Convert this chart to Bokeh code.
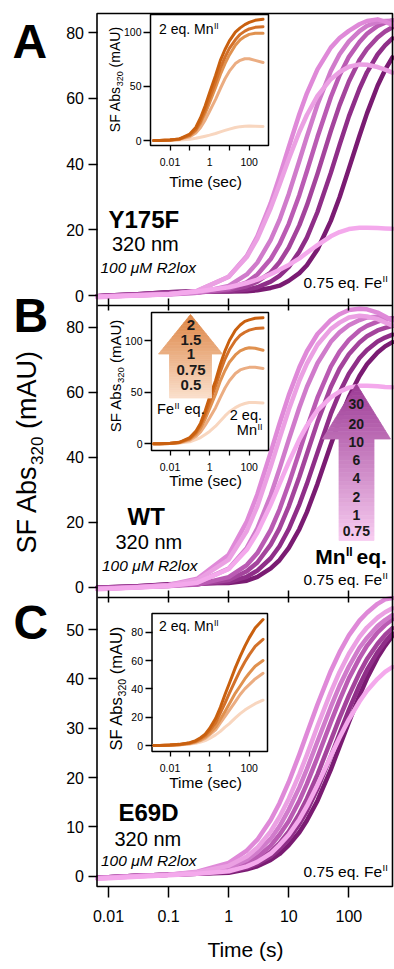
import math
from bokeh.plotting import figure
from bokeh.models import (Range1d, LinearScale, LogScale, LinearAxis, LogAxis,
                          FixedTicker, Label, CustomJSTickFormatter)
from bokeh.embed import file_html
from bokeh.resources import INLINE

FONT = "Liberation Sans"

# ---------------- data ----------------
time_s = [0.0065, 0.01, 0.03, 0.1, 0.3, 1, 2, 3, 5, 7, 10, 15, 20, 30, 50, 70, 100, 150, 200, 300, 400, 530]
x_ticks = [0.01, 0.1, 1, 10, 100]
yA_ticks = [0, 20, 40, 60, 80]
yB_ticks = [0, 20, 40, 60, 80]
yC_ticks = [0, 10, 20, 30, 40, 50]
mn_eq_labels = ["30", "20", "10", "6", "4", "2", "1", "0.75"]
fe_eq_labels = ["2", "1.5", "1", "0.75", "0.5"]

# Panel A (Y175F), main traces
y175f_1 = [-0.5, -0.4, 0, 0.4, 1.2, 2.5, 3.8, 4.8, 6.5, 7.8, 9.3, 11.3, 13, 15.3, 18, 19.3, 20.2, 20.6, 20.6, 20.5, 20.4, 20.3]
y175f_2 = [-0.3, -0.2, 0.1, 0.4, 1.4, 5.7, 11.7, 17.3, 26.6, 33.7, 41.5, 49.8, 54.9, 60.7, 65.8, 68, 69.6, 70.3, 70.2, 69.5, 68.7, 67.8]
y175f_3 = [-0.3, -0.3, 0.1, 0.4, 1.4, 5.7, 12, 18, 28.1, 36.1, 45.2, 55.2, 61.5, 68.8, 75.4, 78.3, 80.5, 82.5, 83.5, 84, 83.3, 82.3]
y175f_4 = [-0.3, -0.2, 0.1, 0.3, 0.8, 2.9, 6.4, 10, 16.9, 23, 30.9, 41, 48.3, 58.1, 68.3, 73.4, 77.3, 80.4, 82, 83.2, 83.5, 83.6]
y175f_5 = [-0.2, -0.1, 0.2, 0.5, 0.8, 2, 4, 6.4, 11.1, 15.6, 21.8, 30.6, 37.8, 48.2, 60.3, 67, 72.6, 77.1, 79.6, 82, 83, 83.7]
y175f_6 = [-0.2, 0, 0.3, 0.8, 1.1, 1.6, 2.8, 4.2, 7, 10.1, 14.6, 21.4, 27.4, 37, 50, 57.9, 65.1, 71.6, 75, 78.5, 80.3, 81.6]
y175f_7 = [-0.2, 0, 0.4, 1, 1.3, 1.3, 1.8, 2.5, 4.2, 6, 8.7, 13.4, 17.6, 25.4, 37.3, 45.8, 54.5, 62.9, 67.9, 73.3, 76.1, 78.2]
y175f_8 = [-0.2, 0, 0.4, 1, 1.3, 1.2, 1.3, 1.6, 2.3, 3, 4.5, 6.8, 9.2, 14, 22.7, 29.9, 38.6, 48.6, 55.4, 63.8, 68.6, 72.4]

# Panel B (WT), main traces
wt_1 = [-0.6, -0.5, -0.1, 0.4, 1.4, 5.6, 11.5, 16.8, 25.4, 31.8, 38.5, 45.5, 49.7, 54.4, 58.4, 60.2, 61.4, 62, 62, 61.8, 61.6, 61.5]
wt_2 = [-0.5, -0.4, 0, 0.6, 2.2, 8.5, 17.3, 24.9, 37.1, 45.7, 54.6, 63.6, 68.8, 74.6, 79.4, 81.4, 83, 83.5, 83.3, 82.5, 81.5, 80.5]
wt_3 = [-0.5, -0.4, 0, 0.7, 2.6, 10, 20.2, 28.6, 41.5, 50.3, 59.1, 67.7, 72.6, 77.9, 82.2, 84, 85.3, 85.7, 85.5, 84.5, 83.3, 82]
wt_4 = [-0.4, -0.3, 0, 0.4, 1.4, 5.7, 12.1, 18.1, 28.3, 36.4, 45.4, 55.3, 61.6, 68.9, 75.5, 78.4, 80.6, 82.2, 83, 83.2, 82.8, 82.3]
wt_5 = [-0.3, -0.2, 0.1, 0.4, 0.8, 3.1, 6.8, 10.5, 17.6, 23.9, 31.8, 41.7, 49, 58.3, 67.9, 72.5, 76.1, 79, 80.4, 81.7, 82.4, 82.8]
wt_6 = [-0.2, -0.1, 0.2, 0.6, 0.9, 2.2, 4.9, 7.6, 13.1, 18.1, 24.9, 34, 41, 50.8, 61.6, 67.2, 71.7, 75.3, 77.2, 79, 79.8, 80.4]
wt_7 = [-0.2, 0, 0.3, 0.8, 1, 1.6, 3.2, 5.1, 8.9, 12.6, 17.9, 25.5, 31.8, 41.4, 53.3, 59.9, 65.7, 70.5, 73, 75.6, 76.8, 77.7]
wt_8 = [-0.2, 0, 0.3, 0.9, 1.2, 1.3, 2, 3.2, 5.8, 8.3, 12.1, 17.9, 23.1, 31.8, 43.8, 51.4, 58.5, 65, 68.6, 72.2, 74.1, 75.4]

# Panel C (E69D), main traces
e69d_1 = [-0.5, -0.4, -0.1, 0.2, 0.5, 1, 2, 2.9, 4.6, 6.3, 8.4, 11.5, 14.2, 18.5, 24.3, 28.1, 31.8, 35.4, 37.6, 40, 41.4, 42.4]
e69d_2 = [-0.4, -0.3, 0, 0.3, 0.8, 2.1, 4, 5.8, 9.1, 12, 15.7, 20.7, 24.6, 30.4, 37.3, 41.4, 45.1, 48.5, 50.4, 52.4, 53.5, 54.3]
e69d_3 = [-0.4, -0.3, 0, 0.3, 0.9, 2.7, 5.2, 7.4, 11.4, 14.8, 19.1, 24.7, 28.9, 34.8, 41.6, 45.4, 48.8, 51.8, 53.4, 55.2, 56.1, 56.4]
e69d_4 = [-0.3, -0.2, 0.1, 0.3, 0.7, 1.7, 3.3, 4.9, 7.6, 10.1, 13.5, 18, 21.7, 27.3, 34.3, 38.6, 42.5, 46.3, 48.3, 50.7, 51.9, 52.9]
e69d_5 = [-0.3, -0.2, 0.1, 0.3, 0.6, 1.4, 2.7, 3.9, 6.2, 8.4, 11.2, 15.3, 18.7, 24.1, 31.2, 35.7, 40.1, 44.2, 46.7, 49.4, 50.9, 52.1]
e69d_6 = [-0.3, -0.2, 0.1, 0.3, 0.6, 1.1, 2.1, 3.1, 5, 6.7, 9.1, 12.7, 15.7, 20.6, 27.5, 32.1, 36.6, 41.2, 44, 47.1, 48.9, 50.3]
e69d_7 = [-0.3, -0.2, 0.1, 0.3, 0.5, 0.9, 1.7, 2.5, 4, 5.5, 7.5, 10.6, 13.2, 17.7, 24.3, 28.9, 33.7, 38.7, 41.8, 45.4, 47.5, 49.2]
e69d_8 = [-0.3, -0.2, 0.1, 0.3, 0.5, 0.7, 1.4, 2, 3.3, 4.5, 6.3, 8.9, 11.3, 15.3, 21.6, 26.3, 31.2, 36.6, 40.1, 44.3, 46.7, 48.7]

# insets (2 eq. Mn, varying Fe eq.)
inset_time = [0.0015, 0.003, 0.01, 0.03, 0.1, 0.2, 0.35, 0.6, 1, 2, 3.5, 6, 10, 20, 35, 60, 100, 200, 500]
inset_y_ticks_a = [0, 50, 100]
inset_y_ticks_b = [0, 50, 100]
inset_y_ticks_c = [0, 20, 40, 60, 80]

insA_fe2 = [0, 0, 0.5, 1.5, 6, 12, 21, 32, 44, 60, 74, 84, 92, 100, 104, 107, 109, 111, 112]
insA_fe15 = [0, 0, 0.4, 1.3, 5, 10, 18, 28, 39, 54, 67, 77, 85, 93, 98, 101, 103, 104.5, 105]
insA_fe1 = [0, 0, 0.4, 1.2, 4.5, 9, 16, 25, 35, 49, 61, 71, 79, 88, 93, 96, 98, 99, 99]
insA_fe075 = [0, 0, 0.3, 1, 3.5, 7, 12, 19, 27, 38, 48, 57, 64, 71, 74, 75.5, 75.5, 74, 72]
insA_fe05 = [0, 0, 0.2, 0.5, 1.2, 2, 3, 4, 5, 6.5, 8, 9.3, 10.5, 12, 12.8, 13.2, 13.3, 13.2, 13]

insB_fe2 = [0, 0, 0.5, 1.5, 6, 12, 20, 32, 45, 61, 77, 90, 100, 110, 115, 118.5, 120, 121.5, 122]
insB_fe15 = [0, 0, 0.4, 1.3, 5, 10.5, 18, 28, 40, 56, 70, 82, 91, 100, 105, 108, 110, 111.5, 112]
insB_fe1 = [0, 0, 0.4, 1.2, 4.5, 9, 15, 24, 34, 48, 61, 71, 79, 86, 90, 92, 93, 92.5, 90.5]
insB_fe075 = [0, 0, 0.3, 1, 3.5, 7, 11.5, 18, 25, 35, 45, 54, 61, 68, 71.5, 73, 74, 74, 73]
insB_fe05 = [0, 0, 0.2, 0.7, 2, 4, 6, 9, 12, 17, 22, 27, 31, 35, 37.5, 39, 40, 40, 39.5]

insC_fe2 = [0, 0, 0.3, 0.8, 2, 3.5, 5.5, 8, 12, 19, 27, 36, 44, 55, 63, 70, 76, 83, 89]
insC_fe15 = [0, 0, 0.3, 0.7, 1.8, 3, 5, 7, 10.5, 16, 23, 30, 37, 46, 53, 59, 64, 70, 75]
insC_fe1 = [0, 0, 0.2, 0.6, 1.5, 2.6, 4, 6, 8.5, 13, 18.5, 24, 29.5, 37, 42, 47, 51, 56, 60]
insC_fe075 = [0, 0, 0.2, 0.5, 1.3, 2.2, 3.5, 5, 7.5, 11, 16, 20.5, 25, 31, 36, 40, 43, 47, 51]
insC_fe05 = [0, 0, 0.1, 0.4, 1, 1.6, 2.5, 3.5, 5, 7.5, 10, 13, 15.5, 19.5, 22.5, 25, 27, 29.5, 32]

# ---------------- styling ----------------
pink_colors = ["#F4A9EC", "#EBA0E3", "#DF89D8", "#D07BCB", "#BA5BB3", "#A4449C", "#8F2E88", "#7A1B72"]
orange_colors = ["#C9600F", "#D3712A", "#E0914F", "#EBAD82", "#F8D6BF"]

W, H = 394, 969
# The whole canvas is the plotting area; positions below are page pixels.
PXL, PXR = 0.0, float(W)
PYT, PYB = 0.0, float(H)
FL, FR, FT, FB = 96.5, 392.0, 13.0, 886.0     # main frame box
K = 0.45                                      # label anchor correction (fraction of font size)


def log_range(v0, p0, ppd):
    lo = 10 ** (math.log10(v0) + (PXL - p0) / ppd)
    hi = 10 ** (math.log10(v0) + (PXR - p0) / ppd)
    return Range1d(start=lo, end=hi)


def lin_range(y0, ppu):
    return Range1d(start=(y0 - PYB) / ppu, end=(y0 - PYT) / ppu)


p = figure(width=W, height=H, x_axis_type="log",
           x_range=log_range(0.01, 108.0, 60.1), y_range=lin_range(875.7, 4.934),
           x_axis_location=None, y_axis_location=None,
           output_backend="svg", toolbar_location=None,
           min_border_left=0, min_border_right=0, min_border_top=0, min_border_bottom=0,
           outline_line_color=None,
           background_fill_color="white", border_fill_color="white")
p.grid.visible = False

p.extra_x_ranges = {"px": Range1d(start=PXL, end=PXR), "ix": log_range(0.01, 169.5, 19.8)}
p.extra_x_scales = {"px": LinearScale(), "ix": LogScale()}
p.extra_y_ranges = {
    "py": Range1d(start=PYB, end=PYT),
    "A": lin_range(295.0, 3.2875),
    "B": lin_range(586.7, 3.25),
    "iA": lin_range(140.0, 1.083),
    "iB": lin_range(443.3, 1.033),
    "iC": lin_range(745.0, 1.416),
}

# ---------------- main traces ----------------
panel_A = [y175f_1, y175f_2, y175f_3, y175f_4, y175f_5, y175f_6, y175f_7, y175f_8]
panel_B = [wt_1, wt_2, wt_3, wt_4, wt_5, wt_6, wt_7, wt_8]
panel_C = [e69d_1, e69d_2, e69d_3, e69d_4, e69d_5, e69d_6, e69d_7, e69d_8]

for series, rname in ((panel_A, "A"), (panel_B, "B"), (panel_C, "default")):
    for ys, col in list(zip(series, pink_colors))[::-1]:
        p.line(time_s, ys, y_range_name=rname, line_color=col, line_width=4.5,
               line_cap="round", line_join="round")

# main frame
p.quad(left=[FL], right=[FR], top=[FT], bottom=[FB], x_range_name="px", y_range_name="py",
       fill_color=None, line_color="black", line_width=1.6)

# ---------------- insets ----------------
inset_boxes = [(150.0, 268.0, 14.0, 145.0), (151.0, 268.0, 312.0, 450.0), (151.5, 267.0, 613.0, 751.0)]
for (l, r, t, b) in inset_boxes:
    p.quad(left=[l], right=[r], top=[t], bottom=[b], x_range_name="px", y_range_name="py",
           fill_color="white", line_color="black", line_width=1.5)

inset_sets = [([insA_fe2, insA_fe15, insA_fe1, insA_fe075, insA_fe05], "iA"),
              ([insB_fe2, insB_fe15, insB_fe1, insB_fe075, insB_fe05], "iB"),
              ([insC_fe2, insC_fe15, insC_fe1, insC_fe075, insC_fe05], "iC")]
for series, rname in inset_sets:
    for ys, col in list(zip(series, orange_colors))[::-1]:
        p.line(inset_time, ys, x_range_name="ix", y_range_name=rname, line_color=col,
               line_width=3, line_cap="round", line_join="round")

# ---------------- axes ----------------
def y_axis(rname, ticks, loc, size, tick_out, standoff, lw):
    ax = LinearAxis(y_range_name=rname, x_range_name="px", fixed_location=loc,
                    ticker=FixedTicker(ticks=ticks),
                    major_tick_out=tick_out, major_tick_in=0, minor_tick_out=0, minor_tick_in=0,
                    major_label_standoff=standoff, major_label_text_font=FONT,
                    major_label_text_font_size=f"{size}px", major_label_text_color="black",
                    axis_line_color=None, major_tick_line_color="black", major_tick_line_width=lw)
    p.add_layout(ax, "left")


def x_axis(rname, loc, size, tick_in, tick_out, standoff, code, line, lw):
    ax = LogAxis(x_range_name=rname, y_range_name="py", fixed_location=loc,
                 ticker=FixedTicker(ticks=x_ticks),
                 major_tick_out=tick_out, major_tick_in=tick_in, minor_tick_out=0, minor_tick_in=0,
                 major_label_standoff=standoff, major_label_text_font=FONT,
                 major_label_text_font_size=f"{size}px", major_label_text_color="black",
                 formatter=CustomJSTickFormatter(code=code),
                 axis_line_color="black" if line else None, axis_line_width=1.6,
                 major_tick_line_color="black", major_tick_line_width=lw)
    if line:
        ax.bounds = (10 ** (-2 + (FL - 108.0) / 60.1), 10 ** (-2 + (FR - 108.0) / 60.1))
    p.add_layout(ax, "below")


y_axis("A", yA_ticks, FL, 16, 9, 4, 1.5)
y_axis("B", yB_ticks, FL, 16, 9, 4, 1.5)
y_axis("default", yC_ticks, FL, 16, 9, 4, 1.5)
x_axis("default", 305.0, 16, 7, 5, 5, "return '';", True, 1.5)
x_axis("default", 597.0, 16, 7, 5, 5, "return '';", True, 1.5)
x_axis("default", FB, 16, 0, 11, 12, "return tick.toString();", False, 1.5)

inset_label_code = "const e = Math.round(Math.log10(tick)); return (e % 2 == 0) ? tick.toString() : '';"
y_axis("iA", inset_y_ticks_a, 150.0, 10.5, 7, 2, 1.3)
y_axis("iB", inset_y_ticks_b, 151.0, 10.5, 7, 2, 1.3)
y_axis("iC", inset_y_ticks_c, 151.5, 10.5, 7, 2, 1.3)
x_axis("ix", 145.0, 10.5, 0, 5, 7, inset_label_code, False, 1.3)
x_axis("ix", 450.0, 10.5, 0, 5, 7, inset_label_code, False, 1.3)
x_axis("ix", 751.0, 10.5, 0, 5, 7, inset_label_code, False, 1.3)

# ---------------- text ----------------
def lab(x, y, text, size, style="normal", align="left", angle=0.0, color="black"):
    # (x, y) is the intended baseline anchor in page pixels
    if angle == 0.0:
        ax_, ay_ = x, y - K * size
    else:
        ax_, ay_ = x - K * size, y
    p.add_layout(Label(x=ax_, y=ay_, x_range_name="px", y_range_name="py", text=text,
                       text_font=FONT, text_font_size=f"{size}px", text_font_style=style,
                       text_align=align, text_baseline="alphabetic", angle=angle,
                       text_color=color))


def vtitle(xb, y_start, size, sub_size):
    # rotated "SF Abs320 (mAU)" reading upward, starting at y_start
    j = y_start - 3.279 * size                 # width of "SF Abs" (Arial metrics)
    lab(xb, y_start, "SF Abs", size, angle=math.pi / 2)
    lab(xb + 0.2 * size, j, "320", sub_size, angle=math.pi / 2)
    j2 = j - 3 * 0.556 * sub_size - 0.278 * size
    lab(xb, j2, "(mAU)", size, angle=math.pi / 2)


def with_sup(x_join, y, text_before, size, sup, sup_size, style="normal"):
    lab(x_join, y, text_before, size, style=style, align="right")
    lab(x_join + 0.5, y - 0.38 * size, sup, sup_size, style=style)


# panel letters
lab(12, 63, "A", 48, "bold")
lab(13, 337, "B", 48, "bold")
lab(13, 644, "C", 48, "bold")

# main titles
vtitle(38.5, 553, 27, 17)
lab(245, 958, "Time (s)", 21, align="center")

# panel annotations
lab(108, 229.5, "Y175F", 24, "bold")
lab(111.5, 252.5, "320 nm", 20)
lab(100, 274, "100 \u03bcM R2lox", 15.5, "italic")
with_sup(381.5, 288.5, "0.75 eq. Fe", 15.5, "II", 9.5)

lab(127, 527, "WT", 24, "bold")
lab(115, 550, "320 nm", 20)
lab(101.5, 572, "100 \u03bcM R2lox", 15.5, "italic")
with_sup(381.5, 585.5, "0.75 eq. Fe", 15.5, "II", 9.5)
with_sup(345.0, 565, "Mn", 21, "II", 12, style="bold")
lab(356.0, 565, "eq.", 21, "bold")

lab(118, 822.5, "E69D", 24, "bold")
lab(114, 847, "320 nm", 20)
lab(100.5, 867, "100 \u03bcM R2lox", 15.5, "italic")
with_sup(381.5, 877.5, "0.75 eq. Fe", 15.5, "II", 9.5)

# inset titles
vtitle(121.0, 131.7, 14, 9)
vtitle(122.0, 431.7, 15, 9.5)
vtitle(122.5, 750.0, 16.5, 10.5)
for yb in (187.5, 487.0, 789.0):
    lab(205, yb, "Time (sec)", 15.5, align="center")
with_sup(213.0, 35.0, "2 eq. Mn", 14, "II", 8.5)
with_sup(213.0, 631.5, "2 eq. Mn", 14, "II", 8.5)
with_sup(173.5, 415.5, "Fe", 14.5, "II", 9)
lab(184.0, 415.5, "eq.", 14.5)
lab(261.5, 421.5, "2 eq.", 14.5, align="right")
with_sup(256.5, 436.5, "Mn", 14.5, "II", 9)


# ---------------- gradient arrows ----------------
def hex_to_rgb(h):
    h = h.lstrip("#")
    return tuple(int(h[i:i + 2], 16) for i in (0, 2, 4))


def mix(c1, c2, t):
    a, b = hex_to_rgb(c1), hex_to_rgb(c2)
    return "#%02x%02x%02x" % tuple(int(round(a[i] + (b[i] - a[i]) * t)) for i in range(3))


def grad_arrow(cx, ty, hb, hw, sw, by, c_top, c_bot, n_head=14, n_shaft=24):
    xs, ys, cols = [], [], []
    total = by - ty
    for i in range(n_head):
        y0 = ty + (hb - ty) * i / n_head
        y1 = ty + (hb - ty) * (i + 1) / n_head
        w0 = hw * (y0 - ty) / (hb - ty)
        w1 = hw * (y1 - ty) / (hb - ty)
        xs.append([cx - w0, cx + w0, cx + w1, cx - w1])
        ys.append([y0, y0, y1, y1])
        cols.append(mix(c_top, c_bot, ((y0 + y1) / 2 - ty) / total))
    for i in range(n_shaft):
        y0 = hb + (by - hb) * i / n_shaft
        y1 = hb + (by - hb) * (i + 1) / n_shaft
        xs.append([cx - sw, cx + sw, cx + sw, cx - sw])
        ys.append([y0, y0, y1, y1])
        cols.append(mix(c_top, c_bot, ((y0 + y1) / 2 - ty) / total))
    p.patches(xs, ys, fill_color=cols, line_color=cols, line_width=0.8,
              x_range_name="px", y_range_name="py")


grad_arrow(190.0, 314.0, 353.5, 32.0, 21.0, 397.5, "#DC8443", "#FADFCB")
grad_arrow(356.0, 383.5, 438.5, 34.0, 17.5, 540.0, "#9C3A95", "#F8CDF1")

for txt, yb in zip(fe_eq_labels, [331.5, 346.5, 360.5, 376.0, 391.5]):
    lab(190.5, yb, txt, 15, "bold", align="center", color="#1a1a1a")
for txt, yb in zip(mn_eq_labels, [410.0, 430.0, 447.5, 466.0, 484.0, 503.0, 520.5, 536.5]):
    lab(355.8, yb, txt, 14, "bold", align="center", color="#1a1a1a")

html = file_html(p, INLINE, title="SF Abs320 kinetics")
open("out.html", "w").write(html)
